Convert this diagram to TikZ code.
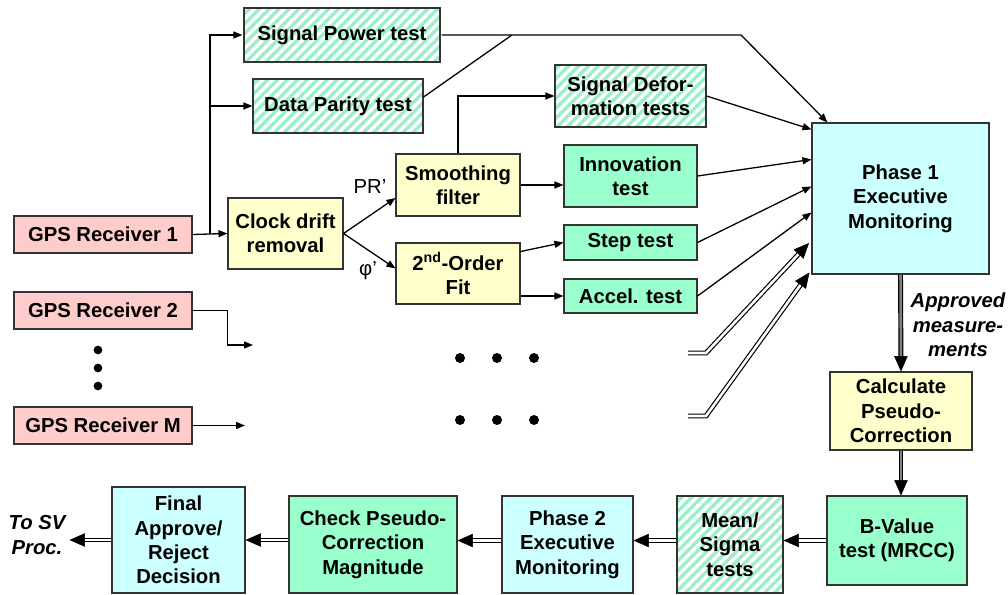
\documentclass[tikz,border=0pt]{standalone}
\usepackage{fontspec}
\setmainfont{Liberation Sans}
\usetikzlibrary{arrows.meta,positioning,calc,patterns.meta,decorations.markings}
\definecolor{RecvCol}{HTML}{FFCCCC}
\definecolor{ProcCol}{HTML}{FFFFCC}
\definecolor{TestCol}{HTML}{99FFCC}
\definecolor{ExecCol}{HTML}{CCFFFF}
\definecolor{HatchCol}{HTML}{99F0C8}
\tikzset{
  block/.style={
    shape = rectangle,
    draw = black!80,
    line width = 0.9pt,
    inner sep = 0pt,
    align = center,
    },
  sized/.style 2 args={
    minimum width = #1cm,
    minimum height = #2cm,
    },
  Recv/.style ={block, fill=RecvCol, sized={5.34}{1.11}},
  Proc/.style ={block, fill=ProcCol},
  Test/.style ={block, fill=TestCol},
  Exec/.style ={block, fill=ExecCol},
  Hatch/.style ={
      block,
      pattern={Lines[angle=45,distance=0.21cm,line width=0.1cm]},
      pattern color=HatchCol,
  },
  Note/.style ={font=\fontsize{17.3}{20.8}\selectfont\mdseries},
  Remark/.style ={font=\fontsize{17.3}{20.8}\selectfont\bfseries\itshape, align=center},
  big tip/.style ={
      postaction={decorate,decoration={markings,
        mark=at position 1 with {\arrow[line width=0.4pt]{Triangle[length=0.46cm,width=0.4cm]}}}},
  },
}
\tikzstyle{Line} = [line width=1.1pt]
\tikzstyle{Flow} = [-{Triangle[length=0.27cm,width=0.21cm]},line width=1.1pt]
\tikzstyle{DFlow} = [line width=1pt,double,double distance=2.2pt,shorten >=0.35cm,big tip]
\tikzstyle{GFlow} = [DFlow,double=gray]

\begin{document}
\begin{tikzpicture}[x=0.03cm,y=-0.03cm,font=\fontsize{17.3}{20.8}\selectfont\bfseries]

    \path[use as bounding box, fill=white] (0,0) rectangle (1008,595);

    % Receivers

    \node[Recv] (gps1) at (103,234.5) {GPS Receiver 1};
    \node[Recv] (gps2) at (103,310.5) {GPS Receiver 2};
    \node[Recv] (gpsM) at (103,425.5) {GPS Receiver M};

    \foreach \y in {350,368,386}
        \fill (98,\y) circle (0.13cm);

    % Pre-processing and tests

    \node[Proc,sized={3.45}{2.13}] (clock) at (285.5,233.5) {Clock drift\\removal};
    \node[Hatch,sized={5.88}{1.62}] (sigpow) at (342,35) {Signal Power test};
    \node[Hatch,sized={5.10}{1.62}] (parity) at (338,106) {Data Parity test};

    \node[Proc,sized={3.72}{1.86}] (smooth) at (458,185) {Smoothing\\filter};
    \node[Proc,sized={3.72}{1.83}] (secfit) at (458,273.5) {2\textsuperscript{nd}-Order\\Fit};

    \node[Hatch,sized={4.53}{1.86}] (sigdef) at (630.5,96) {Signal Defor-\\mation tests};
    \node[Test,sized={3.99}{1.86}] (innov) at (630.5,176) {Innovation\\test};
    \node[Test,sized={3.99}{1.05}] (steptest) at (630.5,242.5) {Step test};
    \node[Test,sized={3.99}{1.02}] (accel) at (630.5,296) {Accel. test};

    \node[Exec,sized={5.31}{4.53}] (phase1) at (900.5,198.5) {Phase 1\\Executive\\Monitoring};

    \foreach \x in {460,497,534}
        \foreach \y in {358,420}
            \fill (\x,\y) circle (0.15cm);

    % Correction chain

    \node[Proc,sized={4.26}{2.34}] (calc) at (901,411) {Calculate\\Pseudo-\\Correction};
    \node[Test,sized={4.2}{2.67}] (bval) at (897,540.5) {B-Value\\test (MRCC)};
    \node[Hatch,sized={3.18}{2.91}] (meansig) at (730,544.5) {Mean/\\Sigma\\tests};
    \node[Exec,sized={3.93}{2.91}] (phase2) at (567.5,544.5) {Phase 2\\Executive\\Monitoring};
    \node[Test,sized={5.04}{2.91}] (check) at (373,544.5) {Check Pseudo-\\Correction\\Magnitude};
    \node[Exec,sized={3.99}{3.18}] (final) at (178.5,540) {Final\\Approve/\\Reject\\Decision};

    \node[Note] (prlbl) at (370,187) {PR’};
    \node[Note] (philbl) at (368,271) {φ’};
    \node[Remark] (apprlbl) at (958,325) {Approved\\measure-\\ments};
    \node[Remark] (tosv) at (37,535) {To SV\\Proc.};

    % Receiver 1 paths

    \draw[Flow] (gps1.east) -- (clock.west);
    \coordinate (tap) at ($(gps1.east)!0.5!(clock.west)$);
    \draw[Flow] (tap) |- (sigpow.west);
    \draw[Flow] (tap) |- (parity.west);

    \coordinate (pwrknee) at (741,35);
    \coordinate (paritymerge) at (512,35);
    \draw[Flow] (sigpow.east) -- (pwrknee) -- ($(phase1.north west)+(16,0)$);
    \draw[Line] ($(parity.east)+(0,-9)$) -- (paritymerge);

    \draw[Flow] (clock.east) -- ($(smooth.west)+(0,13)$);
    \draw[Flow] (clock.east) -- ($(secfit.west)+(0,-5)$);

    \draw[Flow] (smooth.north) |- (sigdef.west);
    \draw[Flow] (smooth.east) -- (smooth.east -| innov.west);
    \draw[Flow] ($(secfit.east)+(0,-22)$) -- (steptest.west);
    \draw[Flow] (accel.west -| secfit.east) -- (accel.west);

    \draw[Flow] (sigdef.east) -- ($(phase1.north west)+(0,7)$);
    \draw[Flow] (innov.east) -- ($(phase1.north west)+(0,37)$);
    \draw[Flow] (steptest.east) -- ($(phase1.north west)+(0,64)$);
    \draw[Flow] (accel.east) -- ($(phase1.north west)+(0,90)$);

    % Other receivers

    \coordinate (gps2out) at (253,345);
    \coordinate (gpsMout) at (245,425.5);
    \draw[Flow] (gps2.east) -- ++(35,0) |- (gps2out);
    \draw[Flow] (gpsM.east) -- (gpsMout);

    \coordinate (more1) at (688,353);
    \coordinate (more2) at (688,416);
    \draw[DFlow] (more1) -- ++(18,0) -- ($(phase1.north west)+(-2,120)$);
    \draw[DFlow] (more2) -- ++(18,0) -- ($(phase1.north west)+(-2,150)$);

    % Phase 2 chain

    \draw[GFlow] (phase1.south) -- (calc.north);
    \draw[GFlow] (calc.south) -- (calc.south |- bval.north);
    \draw[DFlow] (bval.west) -- (bval.west -| meansig.east);
    \draw[DFlow] (meansig.west |- bval.west) -- (bval.west -| phase2.east);
    \draw[DFlow] (phase2.west |- bval.west) -- (bval.west -| check.east);
    \draw[DFlow] (check.west |- final.west) -- (final.east);
    \draw[DFlow] (final.west) -- (final.west -| tosv.east);

\end{tikzpicture}
\end{document}
